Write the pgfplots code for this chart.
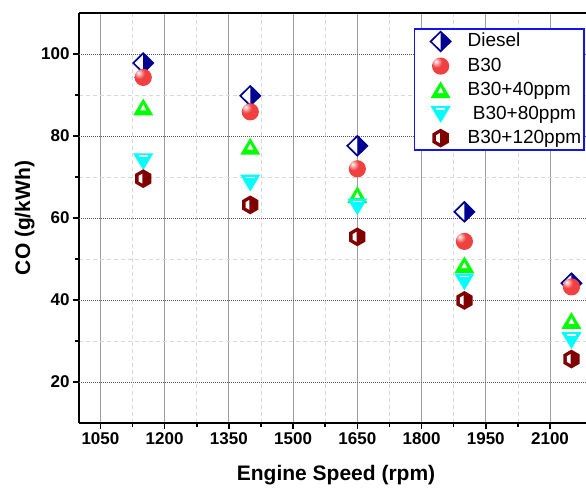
\documentclass[border=0pt]{standalone}
\usepackage{fontspec}
\setmainfont{Liberation Sans}
\usepackage{pgfplots}
\pgfplotsset{compat=1.18}

\definecolor{dieselc}{RGB}{0,0,145}
\definecolor{ballred}{RGB}{240,64,64}
\definecolor{limec}{RGB}{0,255,0}
\definecolor{cyanc}{RGB}{0,255,255}
\definecolor{hexc}{RGB}{128,0,0}
\definecolor{legblue}{RGB}{20,20,240}

% Origin-like symbols
\pgfdeclareplotmark{hdiam}{%
  \begin{pgfscope}
  \pgfsetmiterjoin
  \pgfsetfillcolor{white}
  \pgfpathmoveto{\pgfpoint{0pt}{9.8pt}}\pgfpathlineto{\pgfpoint{-10pt}{0pt}}%
  \pgfpathlineto{\pgfpoint{0pt}{-9.8pt}}\pgfpathclose\pgfusepath{fill}
  \pgfsetfillcolor{dieselc}
  \pgfpathmoveto{\pgfpoint{0pt}{9.8pt}}\pgfpathlineto{\pgfpoint{10pt}{0pt}}%
  \pgfpathlineto{\pgfpoint{0pt}{-9.8pt}}\pgfpathclose\pgfusepath{fill}
  \pgfsetstrokecolor{dieselc}\pgfsetlinewidth{1.7pt}
  \pgfpathmoveto{\pgfpoint{0pt}{9.8pt}}\pgfpathlineto{\pgfpoint{10pt}{0pt}}%
  \pgfpathlineto{\pgfpoint{0pt}{-9.8pt}}\pgfpathlineto{\pgfpoint{-10pt}{0pt}}%
  \pgfpathclose\pgfusepath{stroke}
  \end{pgfscope}}
\pgfdeclareradialshading{myball}{\pgfpoint{-14bp}{14bp}}{%
  color(0bp)=(white); color(5bp)=(ballred!35!white); color(16bp)=(ballred);
  color(45bp)=(ballred); color(65bp)=(ballred!88!black); color(100bp)=(ballred!88!black)}
\pgfdeclareplotmark{rball}{%
  \pgfpathcircle{\pgfpointorigin}{8.6pt}\pgfshadepath{myball}{0}\pgfusepath{discard}}
\pgfdeclareplotmark{gtri}{%
  \begin{pgfscope}
  \pgfsetfillcolor{limec}
  \pgfpathmoveto{\pgfpoint{0pt}{8.8pt}}\pgfpathlineto{\pgfpoint{10pt}{-8pt}}%
  \pgfpathlineto{\pgfpoint{-10pt}{-8pt}}\pgfpathclose\pgfusepath{fill}
  \pgfsetfillcolor{white}
  \pgfpathmoveto{\pgfpoint{0pt}{3pt}}\pgfpathlineto{\pgfpoint{3pt}{-3pt}}%
  \pgfpathlineto{\pgfpoint{-3pt}{-3pt}}\pgfpathclose\pgfusepath{fill}
  \end{pgfscope}}
\pgfdeclareplotmark{ctri}{%
  \begin{pgfscope}
  \pgfsetfillcolor{cyanc}
  \pgfpathmoveto{\pgfpoint{0pt}{-8.8pt}}\pgfpathlineto{\pgfpoint{10pt}{8pt}}%
  \pgfpathlineto{\pgfpoint{-10pt}{8pt}}\pgfpathclose\pgfusepath{fill}
  \pgfsetstrokecolor{white}\pgfsetlinewidth{1.5pt}
  \pgfpathmoveto{\pgfpoint{-4.5pt}{5.2pt}}\pgfpathlineto{\pgfpoint{4.5pt}{5.2pt}}%
  \pgfusepath{stroke}
  \end{pgfscope}}
\pgfdeclareplotmark{hexa}{%
  \begin{pgfscope}
  \pgfsetfillcolor{hexc}
  \pgfpathmoveto{\pgfpointpolar{90}{9.4pt}}\pgfpathlineto{\pgfpointpolar{30}{9.4pt}}%
  \pgfpathlineto{\pgfpointpolar{-30}{9.4pt}}\pgfpathlineto{\pgfpointpolar{-90}{9.4pt}}%
  \pgfpathlineto{\pgfpointpolar{-150}{9.4pt}}\pgfpathlineto{\pgfpointpolar{150}{9.4pt}}%
  \pgfpathclose\pgfusepath{fill}
  \pgfsetfillcolor{white}
  \pgfpathmoveto{\pgfpoint{-0.8pt}{5pt}}\pgfpathlineto{\pgfpoint{-4.6pt}{2.8pt}}%
  \pgfpathlineto{\pgfpoint{-4.6pt}{-2.8pt}}\pgfpathlineto{\pgfpoint{-0.8pt}{-5pt}}%
  \pgfpathclose\pgfusepath{fill}
  \end{pgfscope}}

\pgfplotstableread{
rpm  diesel b30  b40  b80  b120
1150 97.8  94.3 87.0 73.8 69.6
1400 89.8  85.9 77.4 68.6 63.2
1650 77.6  72.0 65.6 62.8 55.4
1900 61.5  54.3 48.5 44.5 39.9
2150 44.1  43.2 34.9 30.2 25.6
}\codata

\pgfplotsset{sym/.style={only marks, mark=#1,
  legend image code/.code={\path[draw=none,fill=none] (-24pt,-6pt) rectangle (26pt,6pt);
    \draw[##1] plot coordinates {(0pt,0pt)};}}}

\begin{document}
\begin{tikzpicture}
\begin{axis}[
  scale only axis, width=507pt, height=410pt,
  xmin=1000, xmax=2184, ymin=10, ymax=110,
  axis x line*=box, axis y line*=left,
  axis line style={line width=2pt, black},
  xtick={1050,1200,...,2100}, minor x tick num=1,
  ytick={20,40,...,100}, minor y tick num=1,
  xtick pos=bottom,
  tick align=outside, major tick length=6pt, minor tick length=3.5pt,
  tick style={black, line width=1.5pt},
  xmajorgrids=true, xminorgrids=true, ymajorgrids=false, yminorgrids=true,
  major grid style={black!38, line width=1pt, solid},
  minor grid style={black!15, line width=0.8pt, dash pattern=on 4pt off 3pt},
  extra y ticks={20,40,...,100}, extra y tick labels={},
  extra y tick style={ymajorgrids=true,
    major grid style={black!65, line width=0.7pt, dash pattern=on 1pt off 1pt}},
  /pgf/number format/assume math mode=true,
  /pgf/number format/set thousands separator={},
  tick label style={font=\bfseries\fontsize{17}{17}\selectfont, black},
  xlabel={Engine Speed (rpm)}, ylabel={CO (g/kWh)},
  label style={font=\bfseries\fontsize{21}{21}\selectfont},
  xlabel style={at={(axis description cs:0.507,-0.127)}, anchor=center},
  ylabel style={at={(axis description cs:-0.107,0.5)}, anchor=center, rotate=0},
  legend style={at={(axis description cs:1,0.9634)}, anchor=north east,
    xshift=-1pt, draw=legblue, line width=1.6pt, fill=white,
    font=\fontsize{19}{19}\selectfont, inner sep=2pt, row sep=4pt,
    nodes={inner sep=1pt, text height=14pt, text depth=4pt}},
  legend cell align=left,
]
\addplot[sym=hdiam] table[x=rpm, y=diesel] {\codata};
\addlegendentry{Diesel}
\addplot[sym=rball] table[x=rpm, y=b30] {\codata};
\addlegendentry{B30}
\addplot[sym=gtri] table[x=rpm, y=b40] {\codata};
\addlegendentry{B30+40ppm}
\addplot[sym=ctri] table[x=rpm, y=b80] {\codata};
\addlegendentry{\ B30+80ppm}
\addplot[sym=hexa] table[x=rpm, y=b120] {\codata};
\addlegendentry{B30+120ppm}
\end{axis}
\pgfresetboundingbox
\path[use as bounding box] ([shift={(-79pt,-65pt)}]current axis.south west)
  rectangle ([shift={(0pt,13pt)}]current axis.north east);
\end{tikzpicture}
\end{document}
